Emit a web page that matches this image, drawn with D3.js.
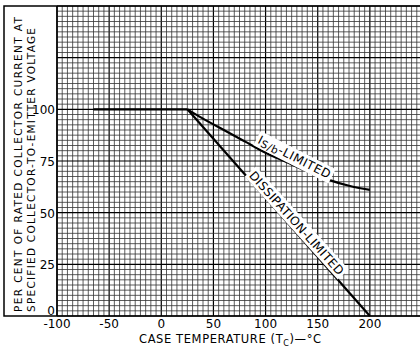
<!DOCTYPE html>
<html>
<head>
<meta charset="utf-8">
<script src="https://cdn.jsdelivr.net/npm/d3@7"></script>
<style>
  body { margin: 0; background: #fff; }
  text { font-family: "DejaVu Sans", sans-serif; fill: #000; }
</style>
</head>
<body>
<div id="chart"></div>
<script>
const width = 420, height = 349;
const margin = { top: 6, right: -2, bottom: 33, left: 57 };

// data
const xTicks = [-100, -50, 0, 50, 100, 150, 200];
const yTicks = [0, 25, 50, 75, 100];
const flatTemp = [-65, 25];
const flatPct = [100, 100];
const dissTemp = [25, 200];
const dissPct = [100, 0];
const isbTemp = [25, 40, 60, 80, 100, 120, 140, 160, 180, 200];
const isbPct = [100, 95.5, 90, 84.5, 79, 74.5, 70, 66, 63, 61];

var x = d3.scaleLinear()
    .domain([-100, 250])
    .range([margin.left, width - margin.right]);

var y = d3.scaleLinear()
    .domain([0, 150])
    .range([height - margin.bottom, margin.top]);

var svg = d3.select("#chart")
    .append("svg")
    .attr("width", width)
    .attr("height", height);

// graph paper
var grid = svg.append("g");
d3.range(-100, 251, 5).forEach(function (t) {
    grid.append("line")
        .attr("x1", x(t)).attr("x2", x(t))
        .attr("y1", y(0)).attr("y2", y(150))
        .attr("stroke", t % 50 === 0 ? "#000" : "#333")
        .attr("stroke-width", t % 50 === 0 ? 1.2 : 0.8);
});
d3.range(0, 150.1, 2.5).forEach(function (p) {
    grid.append("line")
        .attr("x1", x(-100)).attr("x2", x(250))
        .attr("y1", y(p)).attr("y2", y(p))
        .attr("stroke", p % 25 === 0 ? "#000" : "#333")
        .attr("stroke-width", p % 25 === 0 ? 1.2 : 0.8);
});

// outer frame
svg.append("path")
    .attr("d", "M" + (width + 5) + "," + y(150) + "H4V" + y(0) + "H" + (width + 5))
    .attr("fill", "none")
    .attr("stroke", "#000")
    .attr("stroke-width", 1.5);
svg.append("line")
    .attr("x1", x(-100)).attr("x2", x(-100))
    .attr("y1", y(0)).attr("y2", y(150))
    .attr("stroke", "#000").attr("stroke-width", 1.5);

// tick labels
svg.append("g").selectAll("text")
    .data(xTicks)
    .enter().append("text")
    .attr("x", function (d) { return x(d); })
    .attr("y", y(0) + 12)
    .attr("text-anchor", "middle")
    .attr("font-size", 12)
    .text(function (d) { return d < 0 ? "-" + Math.abs(d) : d; });

svg.append("g").selectAll("text")
    .data(yTicks)
    .enter().append("text")
    .attr("x", x(-100) - 2)
    .attr("y", function (d) { return d === 0 ? y(d) - 1 : y(d) + 5; })
    .attr("text-anchor", "end")
    .attr("font-size", 12)
    .text(function (d) { return d; });

// axis titles
var xt = svg.append("text")
    .attr("x", 139)
    .attr("y", 343)
    .attr("font-size", 11.5)
    .attr("letter-spacing", 0.6);
xt.append("tspan").text("CASE TEMPERATURE (T");
xt.append("tspan").attr("font-size", 8).attr("dy", 3).text("C");
xt.append("tspan").attr("dy", -3).text(")\u2014\u00b0C");

svg.append("text")
    .attr("transform", "translate(22,312) rotate(-90)")
    .attr("font-size", 10.5)
    .attr("textLength", 295)
    .attr("lengthAdjust", "spacing")
    .text("PER CENT OF RATED COLLECTOR CURRENT AT");
svg.append("text")
    .attr("transform", "translate(35,312) rotate(-90)")
    .attr("font-size", 10.5)
    .attr("textLength", 284)
    .attr("lengthAdjust", "spacing")
    .text("SPECIFIED COLLECTOR-TO-EMITTER VOLTAGE");

// curves
var line = d3.line()
    .x(function (d) { return x(d[0]); })
    .y(function (d) { return y(d[1]); });
var curve = d3.line()
    .x(function (d) { return x(d[0]); })
    .y(function (d) { return y(d[1]); })
    .curve(d3.curveMonotoneX);

svg.append("path")
    .attr("d", line(d3.zip(flatTemp, flatPct)))
    .attr("fill", "none").attr("stroke", "#000").attr("stroke-width", 2.2);
svg.append("path")
    .attr("d", line(d3.zip(dissTemp, dissPct)))
    .attr("fill", "none").attr("stroke", "#000").attr("stroke-width", 2.2);
svg.append("path")
    .attr("d", curve(d3.zip(isbTemp, isbPct)))
    .attr("fill", "none").attr("stroke", "#000").attr("stroke-width", 2.2);

// curve labels with white boxes
const addLabel = function (t, p, angle, build) {
    var g = svg.append("g")
        .attr("transform", "translate(" + x(t) + "," + y(p) + ") rotate(" + angle + ")");
    var rect = g.append("rect").attr("fill", "#fff");
    var txt = g.append("text")
        .attr("text-anchor", "middle")
        .attr("font-size", 12)
        .attr("dy", 4.5);
    build(txt);
    var b = txt.node().getBBox();
    rect.attr("x", b.x - 2).attr("y", b.y - 1)
        .attr("width", b.width + 4).attr("height", b.height + 1);
};

addLabel(128, 77, 27, function (txt) {
    txt.attr("letter-spacing", 0.6);
    txt.append("tspan").text("I");
    txt.append("tspan").attr("font-size", 10.5).attr("dy", 2).text("S/b");
    txt.append("tspan").attr("dy", -2).text("-LIMITED");
});
addLabel(130, 45, 48, function (txt) {
    txt.attr("letter-spacing", 0.4).text("DISSIPATION-LIMITED");
});
</script>
</body>
</html>
